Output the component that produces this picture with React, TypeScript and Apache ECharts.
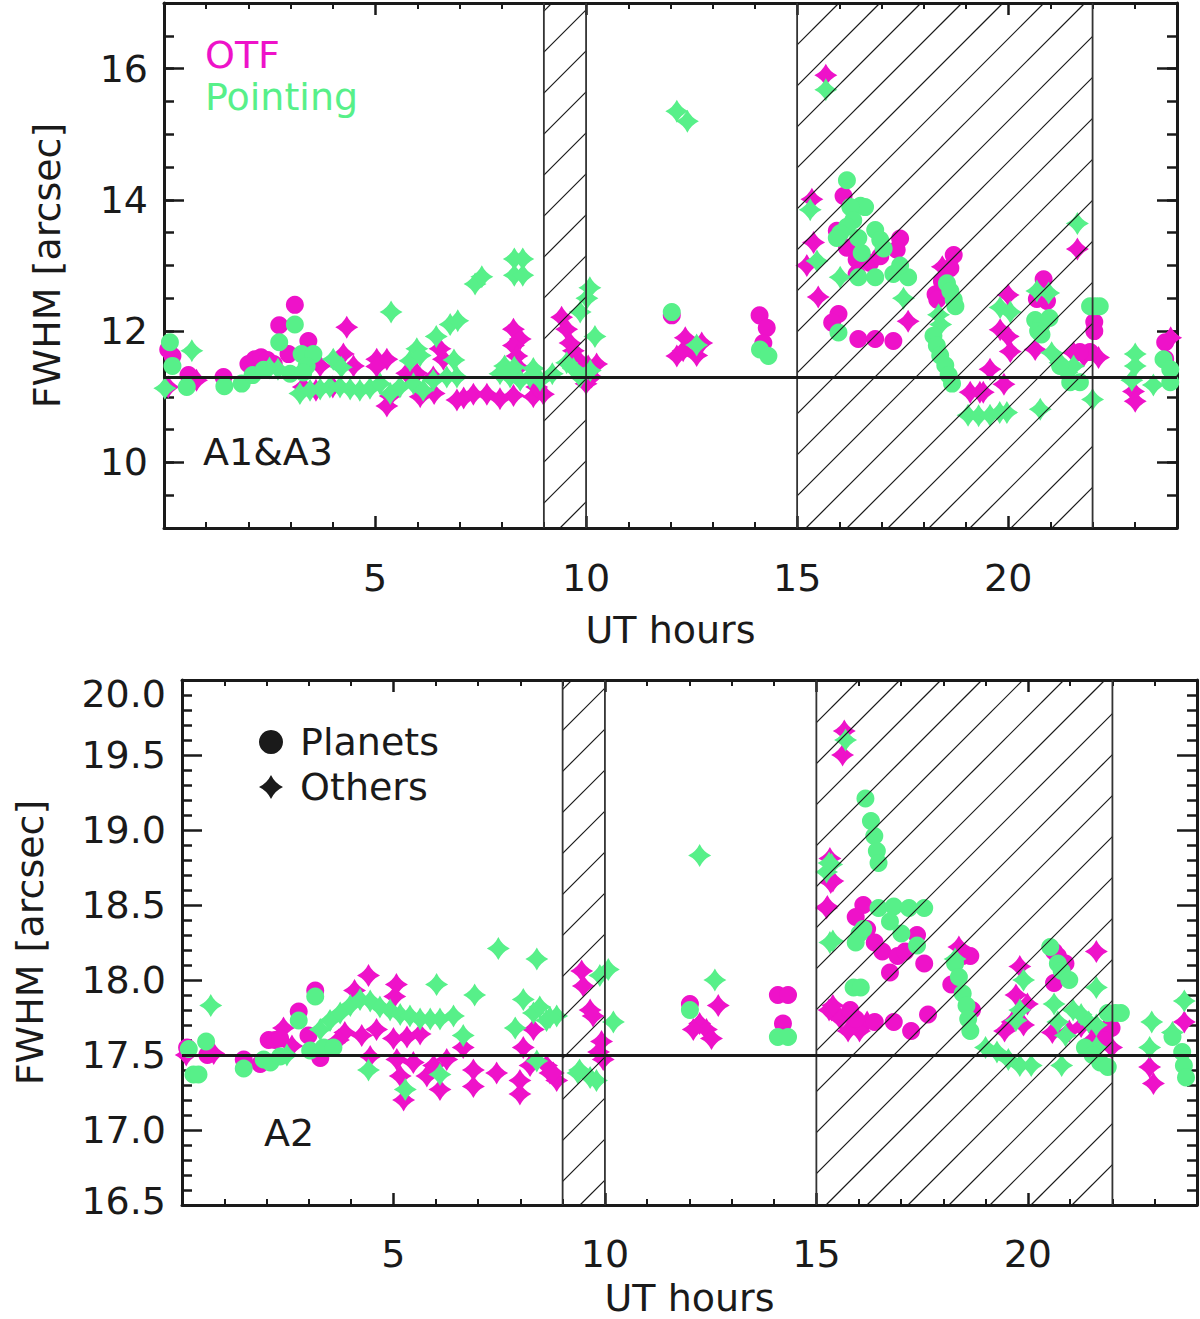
import { useEffect, useRef } from "react"
import * as echarts from "echarts"

// colours and marker shapes
const MAGENTA = "#EE12C9"
const GREEN = "#57F089"
const INK = "#1a1a1a"
const FONT = "DejaVu Sans"
const STAR = "path://M0,-10 Q3.2,-3.2 10,0 Q3.2,3.2 0,10 Q-3.2,3.2 -10,0 Q-3.2,-3.2 0,-10 Z"

// shared axis data
const hatchedHours = [[9, 10], [15, 22]]
const topYTicks = [10, 12, 14, 16]
const topRef = 11.3
const botRef = 17.5

// A1&A3 panel: [UT hour, FWHM]
const topOtfPlanets = [
  [0.1, 11.72], [0.2, 11.62], [0.58, 11.33], [1.41, 11.3], [2.0, 11.5], [2.15, 11.57], [2.3, 11.6],
  [2.45, 11.56], [2.6, 11.5], [2.73, 12.09], [2.95, 11.65], [3.1, 12.4], [3.42, 11.85],
  [12.03, 12.24], [14.11, 12.24], [14.28, 12.05], [14.2, 11.82],
  [16.1, 14.06], [15.94, 13.53], [16.18, 13.27], [16.41, 13.09], [16.73, 13.04], [16.97, 13.14],
  [17.44, 13.41], [17.36, 13.24], [16.41, 12.87], [15.98, 12.26], [15.83, 12.13], [16.45, 11.88],
  [16.85, 11.88], [17.28, 11.85], [18.71, 13.16], [18.63, 12.96], [18.43, 12.76], [18.28, 12.56],
  [18.32, 12.48], [20.84, 12.79], [20.68, 12.49], [20.92, 12.46], [22.04, 12.14], [22.04, 12.0],
  [21.94, 11.68], [21.7, 11.68], [23.72, 11.83], [23.72, 11.58],
]
const topOtfOthers = [
  [0.1, 11.15], [0.77, 11.25], [3.3, 11.15], [3.6, 11.1], [4.0, 11.15], [3.7, 11.47], [4.25, 11.65],
  [4.33, 12.06], [4.49, 11.47], [5.04, 11.57], [5.28, 11.57], [5.04, 11.46], [5.75, 11.36], [5.99, 11.36],
  [6.38, 11.3], [6.54, 11.73], [6.62, 11.57], [5.28, 10.86], [5.36, 11.01], [6.07, 11.0], [6.4, 11.05],
  [6.94, 10.95], [7.1, 10.98], [7.33, 11.04], [7.65, 11.04], [7.96, 10.97], [8.28, 11.02], [8.75, 11.0],
  [8.99, 11.04], [8.28, 12.03], [8.44, 11.88], [8.28, 11.78], [8.36, 11.62], [8.4, 11.45],
  [8.83, 11.15], [9.42, 12.21], [9.54, 12.03], [9.62, 11.82], [9.7, 11.7], [9.82, 11.56], [10.05, 11.47],
  [10.25, 11.5], [10.13, 11.3], [10.0, 11.2], [12.35, 11.9], [12.15, 11.62], [12.62, 11.63],
  [12.74, 11.82], [12.3, 11.7], [15.68, 15.9], [15.35, 14.01], [15.39, 13.35], [15.23, 13.0],
  [15.5, 12.52], [17.63, 12.15], [18.44, 12.98], [19.1, 11.07], [19.33, 11.07], [19.57, 11.42],
  [21.64, 13.25], [20.0, 12.55], [19.81, 12.02], [20.0, 11.92], [20.05, 11.69], [20.64, 11.72],
  [19.9, 11.19], [19.41, 11.07], [22.14, 11.6], [22.97, 11.08], [23.01, 10.93], [21.79, 11.62],
  [21.55, 11.67], [23.85, 11.9],
]
const topPointingPlanets = [
  [0.14, 11.83], [0.2, 11.47], [0.54, 11.15], [1.43, 11.16], [1.84, 11.2], [2.1, 11.33], [2.36, 11.41],
  [2.73, 11.83], [3.1, 12.1], [2.99, 11.35], [3.26, 11.65], [3.54, 11.65], [3.38, 11.47], [3.3, 11.37],
  [12.03, 12.29], [14.12, 11.72], [14.32, 11.62],
  [16.18, 14.3], [16.5, 13.91], [16.61, 13.89], [16.26, 13.89], [16.33, 13.69], [16.18, 13.59],
  [16.02, 13.49], [15.94, 13.42], [16.45, 13.42], [16.53, 13.19], [16.85, 13.54], [16.97, 13.39],
  [17.05, 13.26], [16.45, 12.82], [16.85, 12.82], [17.28, 12.87], [17.63, 12.82], [17.44, 13.0],
  [15.98, 11.98], [18.55, 12.73], [18.63, 12.61], [18.71, 12.48], [18.75, 12.38], [18.23, 11.93],
  [18.31, 11.78], [18.39, 11.63], [18.51, 11.48], [18.59, 11.33], [18.67, 11.2],
  [22.06, 12.38], [21.94, 12.38], [22.17, 12.38], [20.64, 12.17], [20.79, 12.1], [20.71, 12.0],
  [20.79, 11.95], [20.98, 12.2], [21.23, 11.47], [21.47, 11.22], [21.7, 11.22], [23.68, 11.57],
  [23.84, 11.42], [23.84, 11.22],
]
const topPointingOthers = [
  [0.02, 11.13], [0.66, 11.7], [2.5, 11.44], [2.7, 11.42], [3.22, 11.05], [3.46, 11.1], [3.7, 11.12],
  [3.93, 11.15], [4.17, 11.15], [4.41, 11.12], [4.64, 11.1], [4.88, 11.13], [5.12, 11.2], [5.36, 11.05],
  [5.59, 11.15], [5.91, 11.2], [6.14, 11.1], [6.38, 11.25], [6.7, 11.3], [6.94, 11.3], [7.96, 11.35],
  [8.2, 11.3], [8.44, 11.25], [8.67, 11.3], [8.91, 11.25], [4.01, 11.57], [4.2, 11.45], [5.38, 12.29],
  [5.83, 11.55], [5.99, 11.73], [6.07, 11.63], [6.45, 11.92], [6.78, 12.1], [6.96, 12.16], [7.37, 12.72],
  [7.53, 12.83], [8.3, 13.1], [8.5, 13.1], [8.3, 12.85], [8.5, 12.85], [6.87, 11.56], [8.07, 11.47],
  [8.3, 11.45], [10.09, 12.66], [10.02, 12.5], [9.86, 12.29], [10.21, 11.92], [9.54, 11.52],
  [9.7, 11.43], [9.86, 11.3], [8.75, 11.43], [9.2, 11.35], [10.1, 11.4], [12.15, 15.35], [12.4, 15.2],
  [12.62, 11.79], [15.68, 15.68], [15.31, 13.85], [15.47, 13.07], [16.02, 12.82], [17.52, 12.5],
  [18.4, 12.1], [18.35, 12.25], [19.05, 10.72], [19.3, 10.71], [19.57, 10.72], [19.8, 10.76],
  [19.97, 10.76], [21.64, 13.64], [20.68, 12.61], [20.96, 12.58], [19.81, 12.36], [20.05, 12.29],
  [23.01, 11.65], [23.01, 11.47], [22.93, 11.25], [20.76, 10.81], [21.03, 11.67], [21.23, 11.52],
  [21.39, 11.37], [21.55, 11.47], [22.0, 10.96], [23.44, 11.18],
]

// A2 panel
const botOtfPlanets = [
  [0.12, 17.55], [0.6, 17.5], [1.46, 17.47], [1.85, 17.44], [2.05, 17.6], [2.2, 17.6], [2.32, 17.61],
  [2.76, 17.79], [3.15, 17.93], [2.99, 17.63], [3.27, 17.48],
  [12.01, 17.84], [14.09, 17.9], [14.33, 17.9], [14.21, 17.71],
  [16.11, 18.5], [15.93, 18.42], [16.2, 18.34], [16.38, 18.25], [16.56, 18.19], [16.92, 18.16],
  [17.38, 18.3], [17.1, 18.19], [16.74, 18.05], [17.55, 18.11], [16.83, 17.72], [17.24, 17.66],
  [17.64, 17.77], [16.38, 17.72], [15.93, 17.74], [15.8, 17.8], [18.46, 18.16], [18.64, 18.16],
  [18.19, 17.97], [18.68, 17.8], [20.62, 18.19], [20.71, 18.16], [20.89, 18.11], [20.62, 17.98],
  [21.62, 17.68], [21.98, 17.68], [21.8, 17.6],
]
const botOtfOthers = [
  [0.1, 17.5], [0.75, 17.51], [2.4, 17.68], [2.6, 17.56], [4.41, 18.03], [4.08, 17.93], [5.07, 17.97],
  [5.03, 17.89], [4.25, 17.63], [4.6, 17.67], [3.85, 17.65], [3.7, 17.6], [5.0, 17.61], [5.32, 17.62],
  [5.63, 17.64], [4.45, 17.49], [5.08, 17.47], [5.47, 17.45], [5.95, 17.43], [6.26, 17.47], [6.65, 17.55],
  [5.16, 17.36], [5.79, 17.36], [6.1, 17.27], [5.24, 17.2], [6.89, 17.4], [6.89, 17.29], [7.44, 17.38],
  [7.99, 17.33], [7.99, 17.24], [8.23, 17.43], [8.7, 17.38], [8.86, 17.33], [8.07, 17.55], [8.31, 17.67],
  [8.62, 17.43], [8.78, 17.38], [9.45, 18.06], [9.49, 17.96], [9.65, 17.8], [9.72, 17.76], [9.92, 17.59],
  [9.96, 17.47], [9.85, 17.52], [12.68, 17.83], [12.24, 17.71], [12.4, 17.67], [12.52, 17.61],
  [12.09, 17.67], [15.32, 18.81], [15.39, 18.66], [15.24, 18.48], [15.36, 17.8], [15.66, 19.66],
  [15.62, 19.5], [15.34, 18.65], [15.26, 18.49], [15.3, 17.8], [15.57, 17.74], [15.84, 17.77],
  [16.2, 17.72], [16.02, 17.66], [15.39, 17.83], [15.75, 17.66], [18.37, 18.22], [19.81, 18.09],
  [19.72, 17.9], [19.99, 17.84], [19.63, 17.72], [19.9, 17.7], [19.45, 17.66], [20.58, 17.65],
  [21.62, 18.19], [20.98, 17.66], [21.26, 17.69], [21.53, 17.6], [21.8, 17.66], [21.98, 17.55],
  [22.88, 17.42], [22.97, 17.31], [23.7, 17.72],
]
const botPointingPlanets = [
  [0.16, 17.54], [0.27, 17.37], [0.39, 17.37], [0.57, 17.59], [1.46, 17.41], [1.93, 17.47], [2.09, 17.45],
  [2.32, 17.49], [2.76, 17.73], [3.15, 17.89], [3.03, 17.53], [3.35, 17.55], [3.58, 17.55],
  [12.01, 17.8], [14.09, 17.62], [14.33, 17.62],
  [16.16, 19.21], [16.29, 19.06], [16.37, 18.96], [16.43, 18.86], [16.47, 18.78], [16.47, 18.48],
  [16.83, 18.49], [17.19, 18.48], [17.55, 18.48], [16.74, 18.39], [17.01, 18.31], [17.38, 18.23],
  [16.02, 18.31], [15.93, 18.25], [16.11, 18.34], [15.88, 17.95], [16.05, 17.95], [18.28, 18.11],
  [18.37, 18.02], [18.46, 17.91], [18.55, 17.83], [18.59, 17.74], [18.64, 17.66], [20.53, 18.22],
  [20.71, 18.11], [20.8, 18.06], [20.98, 18.0], [21.35, 17.55], [21.53, 17.5], [21.71, 17.45],
  [21.89, 17.42], [22.07, 17.78], [22.2, 17.78], [21.89, 17.78], [23.65, 17.52], [23.69, 17.43],
  [23.74, 17.35], [23.42, 17.62],
]
const botPointingOthers = [
  [0.68, 17.83], [2.48, 17.5], [3.27, 17.67], [3.5, 17.73], [3.74, 17.78], [3.98, 17.83], [4.21, 17.87],
  [4.45, 17.86], [4.68, 17.82], [4.92, 17.8], [5.16, 17.77], [5.39, 17.76], [5.63, 17.74], [5.87, 17.74],
  [6.1, 17.74], [6.42, 17.76], [6.65, 17.63], [8.07, 17.87], [8.31, 17.78], [8.62, 17.73], [8.86, 17.76],
  [7.48, 18.21], [8.39, 18.14], [6.02, 17.97], [6.92, 17.9], [7.88, 17.68], [4.41, 17.4], [5.28, 17.27],
  [6.1, 17.37], [8.39, 17.46], [9.36, 17.38], [10.08, 18.07], [9.88, 18.03], [10.2, 17.72], [9.65, 17.35],
  [9.8, 17.33], [9.4, 17.4], [8.46, 17.82], [8.7, 17.75], [12.24, 18.83], [12.6, 18.0], [15.36, 18.77],
  [15.24, 18.72], [15.32, 18.25], [15.69, 19.6], [15.3, 18.78], [15.39, 18.26], [18.28, 18.14],
  [19.0, 17.55], [19.27, 17.52], [19.54, 17.47], [19.81, 17.43], [20.08, 17.43], [19.9, 18.0],
  [19.81, 17.8], [19.72, 17.73], [20.62, 17.84], [20.71, 17.72], [20.89, 17.63], [21.62, 17.95],
  [21.07, 17.8], [21.26, 17.77], [21.44, 17.72], [21.62, 17.7], [20.8, 17.43], [21.62, 17.55],
  [22.93, 17.72], [22.88, 17.55], [23.7, 17.86], [23.42, 17.65],
]

const text = { fontFamily: FONT, fontSize: 38, color: INK }
const line = { color: INK, width: 3 }

// diagonal hatching of a time window, lines at 45 deg
function renderHatch(params: any, api: any) {
  const cs = params.coordSys
  const xa = api.coord([api.value(0), 0])[0]
  const xb = api.coord([api.value(1), 0])[0]
  const y0 = cs.y
  const y1 = cs.y + cs.height
  const gap = 41
  const phase = 22
  const children: any[] = []
  for (let c = Math.ceil((xa + y0 - phase) / gap) * gap + phase; c <= xb + y1; c += gap) {
    const s = Math.max(xa, c - y1)
    const e = Math.min(xb, c - y0)
    if (e > s) {
      children.push({ type: "line", shape: { x1: s, y1: c - s, x2: e, y2: c - e }, style: { stroke: INK, lineWidth: 1.2 } })
    }
  }
  for (const x of [xa, xb]) {
    children.push({ type: "line", shape: { x1: x, y1: y0, x2: x, y2: y1 }, style: { stroke: "#333", lineWidth: 1.8 } })
  }
  return { type: "group", children }
}

function xAxes(gridIndex: number, labelMargin: number, nameGap: number) {
  const common = {
    type: "value", gridIndex, min: 0, max: 24, interval: 5,
    axisLine: { show: true, onZero: false, lineStyle: line },
    axisTick: { show: true, inside: true, length: 12, lineStyle: { color: INK, width: 2.5 } },
    minorTick: { show: true, splitNumber: 5, length: 6, lineStyle: { color: INK, width: 2 } },
    splitLine: { show: false },
  }
  return [
    {
      ...common, position: "bottom",
      name: "UT hours", nameLocation: "middle", nameGap, nameTextStyle: text,
      axisLabel: { ...text, margin: labelMargin, showMinLabel: false, showMaxLabel: false },
    },
    { ...common, position: "top", axisLabel: { show: false } },
  ]
}

function topYAxes() {
  const base = {
    type: "value", gridIndex: 0, min: 9, max: 17,
    splitLine: { show: false },
  }
  const short = (position: string) => ({
    ...base, position, interval: 0.5,
    axisLine: { show: true, onZero: false, lineStyle: line },
    axisTick: { show: true, inside: true, length: 10, lineStyle: { color: INK, width: 2.5 } },
    axisLabel: { show: false },
  })
  const long = (position: string, labels: boolean) => ({
    ...base, position, interval: 1,
    axisLine: { show: false, onZero: false },
    axisTick: { show: true, inside: true, length: 20, customValues: topYTicks, lineStyle: { color: INK, width: 2.5 } },
    axisLabel: { ...text, show: labels, margin: 16, customValues: topYTicks },
    ...(labels ? { name: "FWHM [arcsec]", nameLocation: "middle", nameGap: 98, nameTextStyle: text } : {}),
  })
  return [short("left"), long("left", true), short("right"), long("right", false)]
}

function botYAxes() {
  const base = {
    type: "value", gridIndex: 1, min: 16.5, max: 20, interval: 0.5,
    axisLine: { show: true, onZero: false, lineStyle: line },
    axisTick: { show: true, inside: true, length: 20, lineStyle: { color: INK, width: 2.5 } },
    minorTick: { show: true, splitNumber: 5, length: 10, lineStyle: { color: INK, width: 2.5 } },
    splitLine: { show: false },
  }
  return [
    {
      ...base, position: "left",
      name: "FWHM [arcsec]", nameLocation: "middle", nameGap: 133, nameTextStyle: text,
      axisLabel: {
        ...text, margin: 16,
        formatter: (v: number) => (v === 20 ? "{hi|20.0}" : v === 16.5 ? "{lo|16.5}" : v.toFixed(1)),
        rich: {
          hi: { ...text, padding: [28, 0, 0, 0] },
          lo: { ...text, padding: [0, 0, 8, 0] },
        },
      },
    },
    { ...base, position: "right", axisLabel: { show: false } },
  ]
}

function scatter(name: string, data: number[][], color: string, symbol: string, size: number, xi: number, yi: number) {
  return {
    name, type: "scatter", data, xAxisIndex: xi, yAxisIndex: yi,
    symbol, symbolSize: size, itemStyle: { color, opacity: 1 },
    silent: true, z: 2,
  }
}

function panelSeries(otfPlanets: number[][], otfOthers: number[][], ptPlanets: number[][], ptOthers: number[][], xi: number, yi: number, ref: number) {
  return [
    scatter("Others", otfOthers, MAGENTA, STAR, 23, xi, yi),
    scatter("Planets", otfPlanets, MAGENTA, "circle", 18, xi, yi),
    scatter("Others", ptOthers, GREEN, STAR, 23, xi, yi),
    scatter("Planets", ptPlanets, GREEN, "circle", 18, xi, yi),
    {
      type: "custom", xAxisIndex: xi, yAxisIndex: yi, data: hatchedHours,
      renderItem: renderHatch, silent: true, z: 3,
      markLine: {
        silent: true, symbol: "none", label: { show: false },
        lineStyle: { color: INK, width: 2.8, type: "solid" },
        data: [{ yAxis: ref }],
      },
    },
  ]
}

function annotation(x: number, y: number, str: string, color: string) {
  return {
    type: "text", x, y, silent: true,
    style: { text: str, fill: color, fontFamily: FONT, fontSize: 38, verticalAlign: "middle" },
  }
}

export default function App() {
  const ref = useRef<HTMLDivElement>(null)

  useEffect(() => {
    if (!ref.current) return
    const chart = echarts.init(ref.current, null, { renderer: "svg" })

    chart.setOption({
      animation: false,
      backgroundColor: "#fff",
      grid: [
        { left: 164, top: 3, width: 1013, height: 525 },
        { left: 182, top: 680, width: 1015, height: 525 },
      ],
      xAxis: [...xAxes(0, 31, 83), ...xAxes(1, 30, 74)],
      yAxis: [...topYAxes(), ...botYAxes()],
      legend: {
        orient: "vertical", left: 254, top: 715,
        itemWidth: 24, itemHeight: 24, itemGap: 1,
        selectedMode: false,
        formatter: (n: string) => " " + n,
        textStyle: { ...text, lineHeight: 44 },
        data: [
          { name: "Planets", icon: "circle", itemStyle: { color: INK } },
          { name: "Others", icon: STAR, itemStyle: { color: INK } },
        ],
      },
      graphic: [
        annotation(205, 55, "OTF", MAGENTA),
        annotation(205, 97, "Pointing", GREEN),
        annotation(203, 452, "A1&A3", INK),
        annotation(264, 1133, "A2", INK),
      ],
      series: [
        ...panelSeries(topOtfPlanets, topOtfOthers, topPointingPlanets, topPointingOthers, 0, 0, topRef),
        ...panelSeries(botOtfPlanets, botOtfOthers, botPointingPlanets, botPointingOthers, 2, 4, botRef),
      ],
    })

    return () => chart.dispose()
  }, [])

  return <div ref={ref} style={{ position: "absolute", left: 0, top: 0, width: 1200, height: 1319 }} />
}
